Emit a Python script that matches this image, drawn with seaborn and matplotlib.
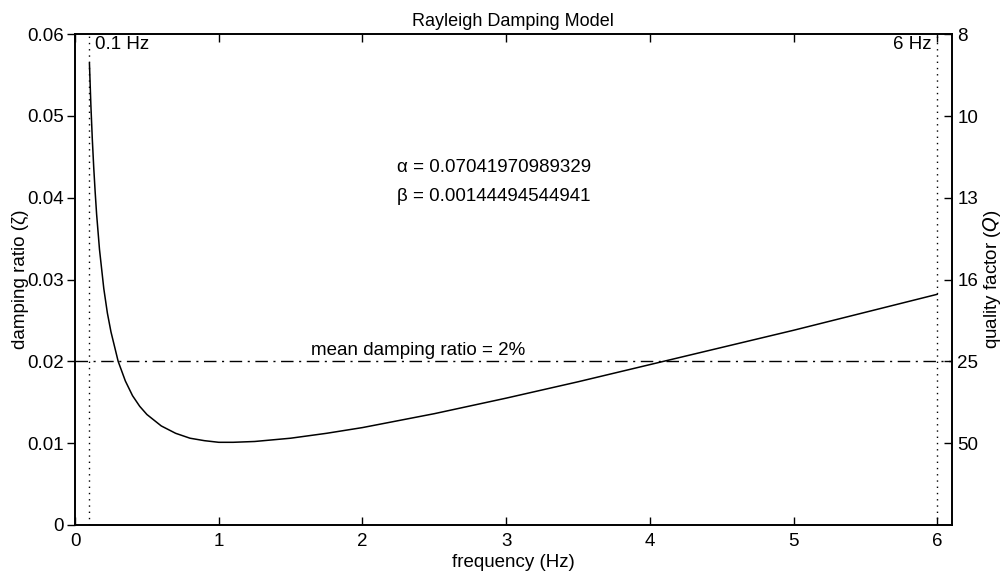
import matplotlib
matplotlib.use("Agg")
import matplotlib.pyplot as plt
import seaborn as sns
import pandas as pd

# values
freq = [0.10, 0.11, 0.12, 0.13, 0.14, 0.15, 0.17, 0.20, 0.225, 0.25, 0.30, 0.35,
        0.40, 0.45, 0.50, 0.60, 0.70, 0.80, 0.90, 1.00, 1.10, 1.25, 1.50, 1.75,
        2.00, 2.50, 3.00, 3.50, 4.00, 4.50, 5.00, 5.50, 6.00]
zeta = [0.0565, 0.0514, 0.0472, 0.0437, 0.0407, 0.0380, 0.0337, 0.0289, 0.0259, 0.0236,
        0.0200, 0.0176, 0.0158, 0.0145, 0.0135, 0.0121, 0.0112, 0.0106, 0.0103, 0.0101,
        0.0101, 0.0102, 0.0106, 0.0112, 0.0119, 0.0136, 0.0155, 0.0175, 0.0196,
        0.0217, 0.0238, 0.0260, 0.0282]
mean_ratio = 0.02
f_low, f_high = 0.1, 6.0
x_ticks = [0, 1, 2, 3, 4, 5, 6]
y_ticks = [0, 0.01, 0.02, 0.03, 0.04, 0.05, 0.06]
y_ticklabels = ["0", "0.01", "0.02", "0.03", "0.04", "0.05", "0.06"]
q_ticks = [0.01, 0.02, 0.03, 0.04, 0.05, 0.06]
q_labels = ["50", "25", "16", "13", "10", "8"]
alpha_txt = "\u03b1 = 0.07041970989329"
beta_txt = "\u03b2 = 0.00144494544941"

sns.set_style("ticks")
plt.rcParams["font.family"] = ["Liberation Sans", "DejaVu Sans"]
for k in ["text.color", "axes.labelcolor", "xtick.color", "ytick.color", "axes.edgecolor"]:
    plt.rcParams[k] = "black"

FS = 13.5

fig = plt.figure(figsize=(10.06, 5.80), dpi=100)
ax = fig.add_axes([0.0746, 0.095, 0.8714, 0.846])

df = pd.DataFrame({"f": freq, "z": zeta})
sns.lineplot(data=df, x="f", y="z", ax=ax, color="black", linewidth=1.1, sort=False)

ax.axhline(mean_ratio, color="black", linewidth=1.0, linestyle=(0, (9, 4, 1.5, 4)))
ax.axvline(f_low, color="black", linewidth=1.0, linestyle=(0, (1, 3.5)))
ax.axvline(f_high, color="black", linewidth=1.0, linestyle=(0, (1, 3.5)))

ax.set_xlim(0, 6.1)
ax.set_ylim(0, 0.06)
ax.set_xticks(x_ticks)
ax.set_xticklabels([str(v) for v in x_ticks], fontsize=FS)
ax.set_yticks(y_ticks)
ax.set_yticklabels(y_ticklabels, fontsize=FS)
ax.tick_params(axis="x", direction="in", length=6, width=1, top=True, pad=6)
ax.tick_params(axis="y", direction="out", length=6, width=1, pad=2)
for s in ax.spines.values():
    s.set_visible(True)
    s.set_linewidth(1.2)
    s.set_color("black")

ax.set_xlabel("frequency (Hz)", fontsize=FS, labelpad=3)
ax.set_ylabel("damping ratio (\u03b6)", fontsize=FS, labelpad=-1)
ax.set_title("Rayleigh Damping Model", fontsize=13, pad=6)

ax.text(0.14, 0.0598, "0.1 Hz", fontsize=FS, ha="left", va="top")
ax.text(5.96, 0.0598, "6 Hz", fontsize=FS, ha="right", va="top")
ax.text(1.64, 0.0203, "mean damping ratio = 2%", fontsize=FS, ha="left", va="bottom")
ax.text(2.24, 0.0437, alpha_txt, fontsize=FS, ha="left", va="center")
ax.text(2.24, 0.0401, beta_txt, fontsize=FS, ha="left", va="center")

ax2 = ax.twinx()
ax2.set_ylim(ax.get_ylim())
ax2.set_yticks(q_ticks)
ax2.set_yticklabels(q_labels, fontsize=FS)
ax2.tick_params(axis="y", direction="in", length=6, width=1, pad=4)
ax2.set_ylabel("quality factor ($\\mathit{Q}$)", fontsize=FS, labelpad=2)
for s in ax2.spines.values():
    s.set_linewidth(1.2)

fig.savefig("out.png", dpi=100)
